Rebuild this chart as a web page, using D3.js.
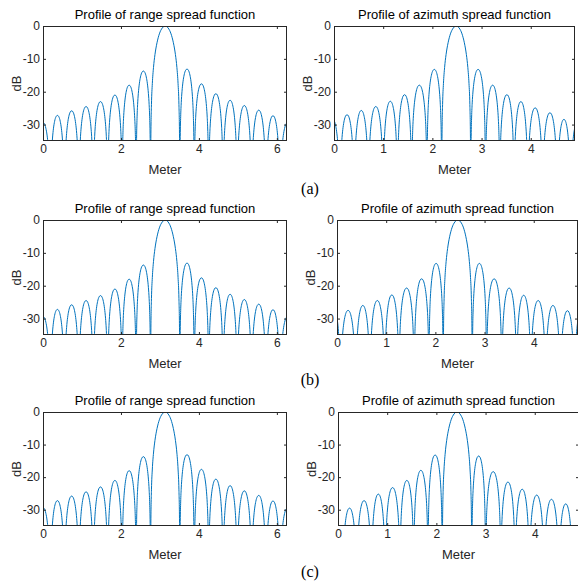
<!DOCTYPE html>
<html>
<head lang="en">
    <meta charset="UTF-8">
    <title>Range / azimuth spread function profiles</title>
    <script src="https://cdnjs.cloudflare.com/ajax/libs/d3/7.8.5/d3.min.js" charset="utf-8"></script>
    <style>
        body { margin: 0; background: white; }
        svg text { font-family: "Liberation Sans", Arial, sans-serif; fill: #262626; }
    </style>
</head>
<body>
<div id="fig"></div>
<script>

// tick labels
var yTicks = [0, -10, -20, -30];
var rangeTicks = [0, 2, 4, 6];
var azimuthTicks = [0, 1, 2, 3, 4];

// nulls (Meter) and the peak level (dB) of the lobe between each pair of nulls
// the three range profiles look the same
var rangeNulls = [-0.20, 0.19, 0.55, 0.92, 1.29, 1.66, 2.03, 2.39, 2.76, 3.51, 3.88, 4.25, 4.62, 4.98, 5.35, 5.72, 6.08, 6.47];
var rangePeaks = [-29.3, -27.2, -25.8, -24.5, -23.0, -21.0, -18.0, -13.7, 0, -13.1, -17.6, -20.6, -22.6, -24.2, -25.6, -27.3, -29.4];

var azANulls = [-0.18, 0.12, 0.41, 0.70, 1.00, 1.29, 1.58, 1.89, 2.19, 2.78, 3.08, 3.37, 3.66, 3.94, 4.24, 4.54, 4.81, 5.10];
var azAPeaks = [-28.3, -27.0, -25.7, -24.5, -22.9, -20.9, -18.0, -13.2, 0, -13.2, -18.0, -20.9, -23.0, -24.9, -26.4, -28.4, -29.0];

var azBNulls = [-0.20, 0.07, 0.38, 0.67, 0.97, 1.26, 1.57, 1.87, 2.16, 2.75, 3.04, 3.35, 3.65, 3.94, 4.24, 4.54, 4.83, 5.12];
var azBPeaks = [-27.0, -27.5, -26.0, -24.5, -22.8, -20.7, -17.9, -13.2, 0, -13.2, -17.9, -20.7, -22.9, -24.5, -26.0, -27.6, -27.0];

var azCNulls = [0.09, 0.38, 0.68, 0.96, 1.26, 1.54, 1.83, 2.12, 2.72, 3.00, 3.31, 3.60, 3.89, 4.19, 4.49, 4.77];
var azCPeaks = [-29.5, -27.2, -25.2, -23.2, -21.0, -17.9, -13.2, 0, -13.5, -18.3, -21.5, -23.7, -25.5, -26.8, -28.2];

// outline of one lobe: dB under its peak at fractions of the lobe width (left half, mirrored)
var lobeFrac = [0, 0.01, 0.03, 0.06, 0.1, 0.15, 0.22, 0.3, 0.4, 0.5];
var sideDrop = [-80, -30.1, -20.5, -14.5, -10.2, -6.9, -3.9, -1.8, -0.4, 0];
var mainDrop = [-80, -33.8, -23.9, -17.5, -12.6, -8.7, -5.1, -2.4, -0.6, 0];

var rangeTitle = 'Profile of range spread function';
var azimuthTitle = 'Profile of azimuth spread function';

var panels = [
    {title: rangeTitle,   nulls: rangeNulls, peaks: rangePeaks, xMax: 6.26, ticks: rangeTicks,   left: 43,  right: 287, top: 26,  bottom: 141},
    {title: azimuthTitle, nulls: azANulls,   peaks: azAPeaks,   xMax: 4.9,  ticks: azimuthTicks, left: 334, right: 575, top: 26,  bottom: 141},
    {title: rangeTitle,   nulls: rangeNulls, peaks: rangePeaks, xMax: 6.26, ticks: rangeTicks,   left: 43,  right: 287, top: 220, bottom: 335},
    {title: azimuthTitle, nulls: azBNulls,   peaks: azBPeaks,   xMax: 4.9,  ticks: azimuthTicks, left: 337, right: 578, top: 220, bottom: 335},
    {title: rangeTitle,   nulls: rangeNulls, peaks: rangePeaks, xMax: 6.26, ticks: rangeTicks,   left: 43,  right: 287, top: 412, bottom: 526},
    {title: azimuthTitle, nulls: azCNulls,   peaks: azCPeaks,   xMax: 4.9,  ticks: azimuthTicks, left: 338, right: 579, top: 412, bottom: 526}
];
var captions = [{text: '(a)', y: 194}, {text: '(b)', y: 385}, {text: '(c)', y: 577}];

var svgWidth = 578, svgHeight = 581;
var axisColor = '#262626', lineColor = '#0072BD';

var svg = d3.select('#fig').append('svg')
    .attr('width', svgWidth)
    .attr('height', svgHeight);

function lobePoints(nulls, peaks) {
    var pts = [];
    for (var i = 0; i < peaks.length; i++) {
        var a = nulls[i], b = nulls[i + 1], p = peaks[i];
        var drop = p === 0 ? mainDrop : sideDrop;
        for (var j = (i === 0 ? 0 : 1); j < lobeFrac.length; j++) {
            pts.push([a + lobeFrac[j] * (b - a), p + drop[j]]);
        }
        for (var k = lobeFrac.length - 2; k >= 0; k--) {
            pts.push([b - lobeFrac[k] * (b - a), p + drop[k]]);
        }
    }
    return pts;
}

// plain hyphen minus, like the original figure
function plain(v) { return String(v); }

function styleAxis(sel) {
    sel.select('.domain').remove();
    sel.selectAll('line').attr('stroke', axisColor);
    sel.attr('font-family', null).attr('font-size', 12);
    sel.selectAll('text').attr('fill', axisColor);
}

panels.forEach(function (d, n) {
    var x = d3.scaleLinear().domain([0, d.xMax]).range([d.left, d.right]);
    var y = d3.scaleLinear().domain([-35, 0]).range([d.bottom, d.top]);
    var g = svg.append('g');

    var clipId = 'clip' + n;
    g.append('clipPath').attr('id', clipId)
        .append('rect')
        .attr('x', d.left).attr('y', d.top)
        .attr('width', d.right - d.left).attr('height', d.bottom - d.top);

    var line = d3.line()
        .x(function (p) { return x(p[0]); })
        .y(function (p) { return y(p[1]); })
        .curve(d3.curveMonotoneX);

    g.append('path')
        .datum(lobePoints(d.nulls, d.peaks))
        .attr('clip-path', 'url(#' + clipId + ')')
        .attr('fill', 'none')
        .attr('stroke', lineColor)
        .attr('stroke-width', 1)
        .attr('d', line);

    g.append('g').attr('transform', 'translate(0,' + d.bottom + ')')
        .call(d3.axisBottom(x).tickValues(d.ticks).tickFormat(plain).tickSize(-3).tickPadding(3))
        .call(styleAxis);
    g.append('g').attr('transform', 'translate(0,' + d.top + ')')
        .call(d3.axisTop(x).tickValues(d.ticks).tickSize(-3).tickFormat(''))
        .call(styleAxis);
    g.append('g').attr('transform', 'translate(' + d.left + ',0)')
        .call(d3.axisLeft(y).tickValues(yTicks).tickFormat(plain).tickSize(-3).tickPadding(3))
        .call(styleAxis);
    g.append('g').attr('transform', 'translate(' + d.right + ',0)')
        .call(d3.axisRight(y).tickValues(yTicks).tickSize(-3).tickFormat(''))
        .call(styleAxis);

    g.append('rect')
        .attr('x', d.left + 0.5).attr('y', d.top + 0.5)
        .attr('width', d.right - d.left - 1).attr('height', d.bottom - d.top - 1)
        .attr('fill', 'none')
        .attr('stroke', axisColor)
        .attr('stroke-width', 1);

    var cx = (d.left + d.right) / 2;
    g.append('text')
        .attr('x', cx).attr('y', d.top - 7)
        .attr('text-anchor', 'middle')
        .attr('font-size', 13)
        .style('fill', '#000')
        .text(d.title);
    g.append('text')
        .attr('x', cx).attr('y', d.bottom + 32.5)
        .attr('text-anchor', 'middle')
        .attr('font-size', 13)
        .text('Meter');
    g.append('text')
        .attr('transform', 'translate(' + (d.left - 22.5) + ',' + ((d.top + d.bottom) / 2) + ') rotate(-90)')
        .attr('text-anchor', 'middle')
        .attr('font-size', 13)
        .text('dB');
});

svg.selectAll('text.caption')
    .data(captions)
    .enter().append('text')
    .attr('class', 'caption')
    .attr('x', 310)
    .attr('y', function (c) { return c.y; })
    .attr('text-anchor', 'middle')
    .attr('font-size', 16)
    .style('font-family', '"Liberation Serif", "Times New Roman", serif')
    .style('fill', '#000')
    .text(function (c) { return c.text; });

</script>
</body>
</html>
